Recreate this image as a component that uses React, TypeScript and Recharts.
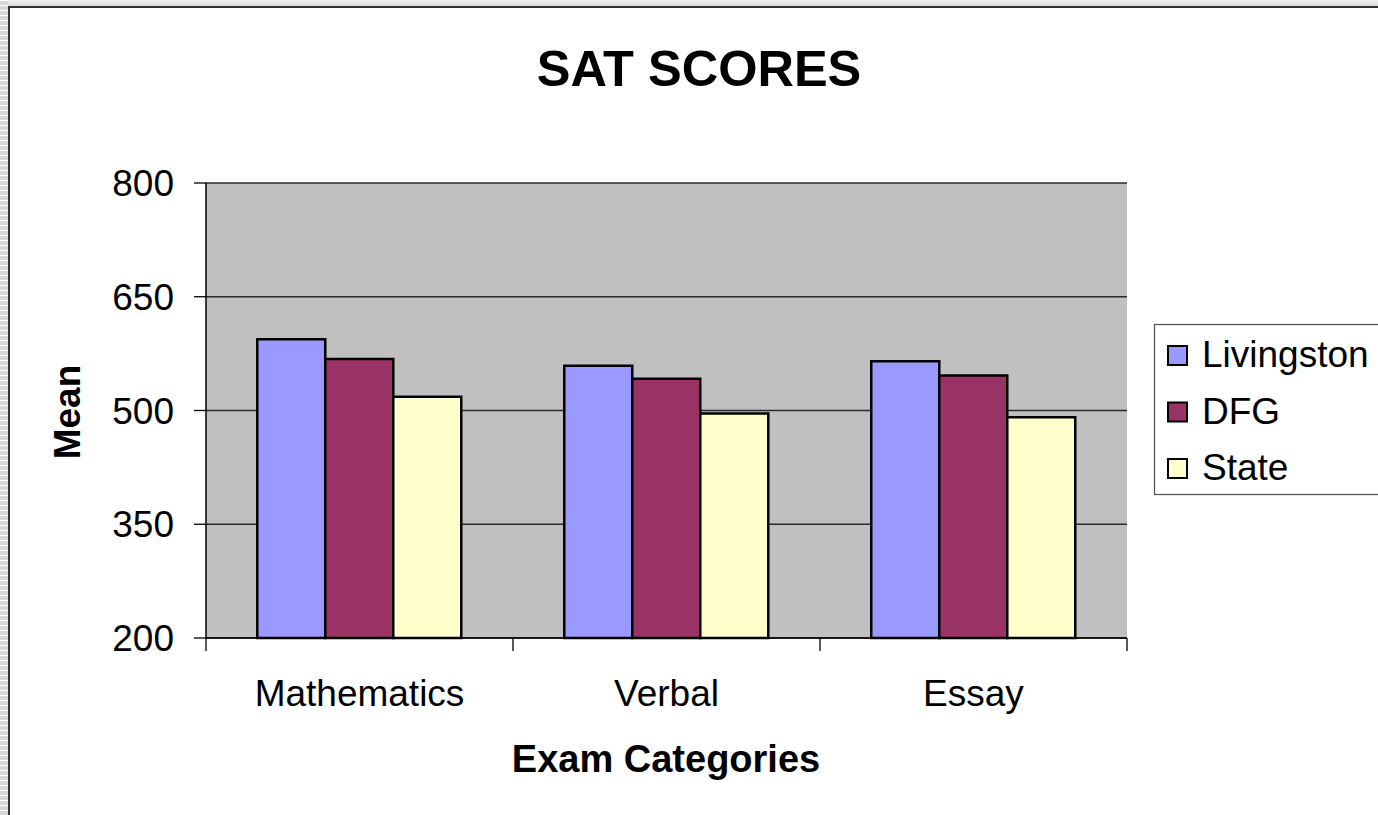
import React from 'react';
import { BarChart, Bar, XAxis, YAxis, CartesianGrid } from 'recharts';

const categories = ['Mathematics', 'Verbal', 'Essay'];
const livingston = [594, 559, 565];
const dfg = [568, 542, 546];
const stateAvg = [518, 496, 491];
const seriesNames = ['Livingston', 'DFG', 'State'];
const seriesColors = ['#9999FF', '#993366', '#FFFFCC'];
const yTicks = [200, 350, 500, 650, 800];
const titleText = 'SAT SCORES';
const xTitle = 'Exam Categories';
const yTitle = 'Mean';

const seriesValues = [livingston, dfg, stateAvg];
const data = categories.map((c, i) => {
  const row: any = { name: c };
  seriesNames.forEach((s, k) => {
    row[s] = seriesValues[k][i];
  });
  return row;
});

const W = 1378;
const H = 815;
const LEFT = 206;
const RIGHT = 251;
const TOP = 183;
const XAXIS_H = 177;
const PLOT_W = W - LEFT - RIGHT;
const FONT = '"Liberation Sans", Arial, Helvetica, sans-serif';

const XTick = (props: any) => {
  const { x, y, payload, index } = props;
  const bw = PLOT_W / categories.length;
  return (
    <g>
      <line x1={x - bw / 2} y1={y} x2={x - bw / 2} y2={y + 13} stroke="#000" strokeWidth={1.3} />
      {index === categories.length - 1 && (
        <line x1={x + bw / 2} y1={y} x2={x + bw / 2} y2={y + 13} stroke="#000" strokeWidth={1.3} />
      )}
      <text x={x} y={y + 68} textAnchor="middle" fontSize={37} fill="#000" fontFamily={FONT}>
        {payload.value}
      </text>
    </g>
  );
};

export default function App() {
  return (
    <div style={{ position: 'absolute', left: 0, top: 0, width: W, height: H, overflow: 'hidden', background: '#fff', fontFamily: FONT }}>
      <div style={{ position: 'absolute', left: 0, top: 0, width: W, height: 6, background: 'linear-gradient(#f2f2f2, #dcdcdc)' }} />
      <div
        style={{
          position: 'absolute',
          left: 0,
          top: 0,
          width: 8,
          height: H,
          background: 'repeating-linear-gradient(to bottom, #ffffff 0px, #ffffff 1px, #d8d8d8 1px, #d8d8d8 5px)',
        }}
      />
      <div
        style={{
          position: 'absolute',
          left: 8,
          top: 6,
          width: W,
          height: H,
          borderLeft: '2px solid #333',
          borderTop: '2px solid #333',
          background: '#fff',
        }}
      />
      <div style={{ position: 'absolute', left: 0, top: 0 }}>
        <BarChart
          width={W}
          height={H}
          data={data}
          margin={{ top: TOP, right: RIGHT, bottom: 0, left: 0 }}
          barCategoryGap="16.7%"
          barGap={0}
        >
          <CartesianGrid vertical={false} fill="#C0C0C0" stroke="#2a2a2a" strokeWidth={1.3} />
          <XAxis
            dataKey="name"
            height={XAXIS_H}
            tickLine={false}
            tickSize={0}
            tickMargin={0}
            axisLine={{ stroke: '#000', strokeWidth: 1.5 }}
            tick={<XTick />}
            interval={0}
          />
          <XAxis
            dataKey="name"
            xAxisId="top"
            orientation="top"
            height={0}
            tick={false}
            tickLine={false}
            axisLine={{ stroke: '#808080', strokeWidth: 2 }}
          />
          <YAxis
            width={LEFT}
            domain={[200, 800]}
            ticks={yTicks}
            interval={0}
            tickSize={12}
            tickMargin={20}
            tick={{ fontSize: 37, fill: '#000', fontFamily: FONT }}
            tickLine={{ stroke: '#000', strokeWidth: 1.3 }}
            axisLine={{ stroke: '#000', strokeWidth: 1.5 }}
          />
          <YAxis
            yAxisId="right"
            orientation="right"
            width={0}
            domain={[200, 800]}
            tick={false}
            tickLine={false}
            axisLine={{ stroke: '#808080', strokeWidth: 2 }}
          />
          {seriesNames.map((s, k) => (
            <Bar key={s} dataKey={s} fill={seriesColors[k]} stroke="#000" strokeWidth={2.5} isAnimationActive={false} />
          ))}
        </BarChart>
      </div>
      <svg width={W} height={H} style={{ position: 'absolute', left: 0, top: 0, pointerEvents: 'none' }}>
        <text x={699} y={86} textAnchor="middle" fontSize={50.5} fontWeight="bold" fill="#000" fontFamily={FONT}>
          {titleText}
        </text>
        <text x={666} y={772} textAnchor="middle" fontSize={38} fontWeight="bold" fill="#000" fontFamily={FONT}>
          {xTitle}
        </text>
        <text x={80} y={412} transform="rotate(-90 80 412)" textAnchor="middle" fontSize={37} fontWeight="bold" fill="#000" fontFamily={FONT}>
          {yTitle}
        </text>
        <rect x={1154.5} y={324.5} width={260} height={170} fill="#fff" stroke="#555" strokeWidth={1.3} />
        {seriesNames.map((s, k) => (
          <g key={s}>
            <rect x={1168} y={346 + k * 56.5} width={19} height={19} fill={seriesColors[k]} stroke="#000" strokeWidth={2} />
            <text x={1202} y={367 + k * 56.5} fontSize={37} fill="#000" fontFamily={FONT}>
              {s}
            </text>
          </g>
        ))}
      </svg>
    </div>
  );
}
